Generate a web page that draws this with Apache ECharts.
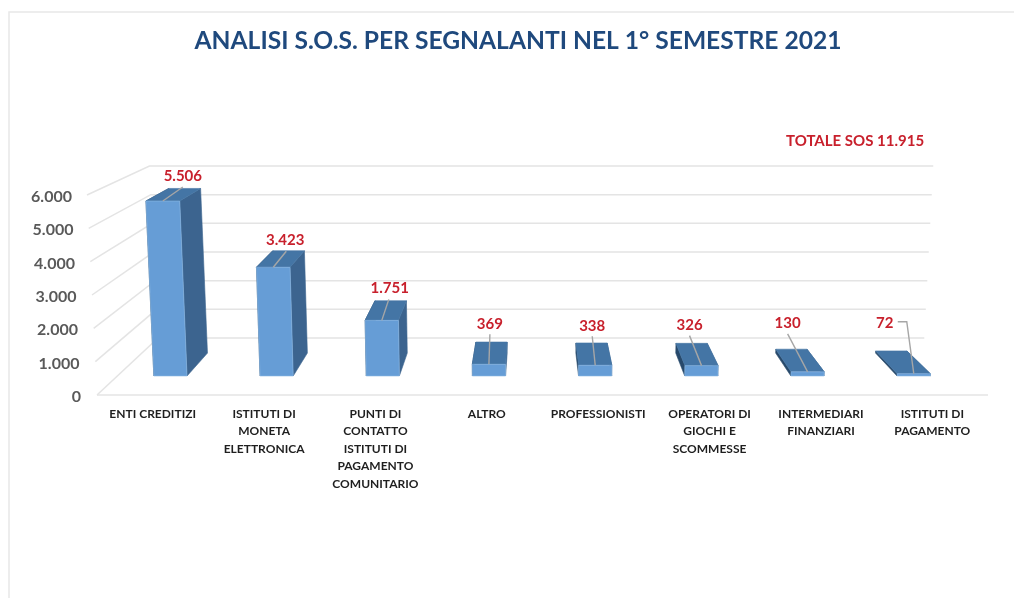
<!DOCTYPE html>
<html>
<head>
<meta charset="utf-8">
<style>
  html, body { margin: 0; padding: 0; background: #fff; }
  #chart { width: 1014px; height: 598px; }
</style>
<script src="https://cdn.jsdelivr.net/npm/echarts@6/dist/echarts.min.js"></script>
</head>
<body>
<div id="chart"></div>
<script>
const categories = [
  "ENTI CREDITIZI",
  "ISTITUTI DI\nMONETA\nELETTRONICA",
  "PUNTI DI\nCONTATTO\nISTITUTI DI\nPAGAMENTO\nCOMUNITARIO",
  "ALTRO",
  "PROFESSIONISTI",
  "OPERATORI DI\nGIOCHI E\nSCOMMESSE",
  "INTERMEDIARI\nFINANZIARI",
  "ISTITUTI DI\nPAGAMENTO",
];
const values = [5506, 3423, 1751, 369, 338, 326, 130, 72];
const yTicks = [0, 1000, 2000, 3000, 4000, 5000, 6000];

// label placement relative to the top of each bar, hand placed like in the original
const labelOffsets = [[20, -25], [12, -27], [8, -32], [1, -40], [-3, -39], [-12, -40], [-20, -49], [-29, -51]];
const leaderOffsets = [
  [[20, -14]],
  [[13, -16]],
  [[7, -21]],
  [[1, -30]],
  [[-3, -29]],
  [[-12, -30]],
  [[-20, -38]],
  [[-7, -52], [-16, -52]],
];

const fontFamily = "Lato, 'Open Sans', sans-serif";
const formatIt = (n) => String(n).replace(/\B(?=(\d{3})+$)/g, ".");
const total = values.reduce((a, b) => a + b, 0);

// fake 3D: s is depth, 0 = front plane of the grid, wallDepth = back wall
const vanish = { x: 533, y: -12 };
const leanRate = 1.147e-4;
const wallDepth = 0.14;
const barFront = 0.0467;
const barBack = 0.103;
const barWidthRatio = 0.3125;

function project(px, py, s, bottom) {
  const x = px + (px - vanish.x) * (bottom - py) * leanRate;
  return [x + s * (vanish.x - x), py + s * (vanish.y - py)];
}

function renderWall(params, api) {
  const grid = params.coordSys;
  const bottom = grid.y + grid.height;
  const left = grid.x;
  const right = grid.x + grid.width;
  const value = api.value(1);
  const py = api.coord([0, value])[1];
  const points = [
    project(left, py, 0, bottom),
    project(left, py, wallDepth, bottom),
    project(right, py, wallDepth, bottom),
  ];
  const style = { stroke: "#e4e4e4", lineWidth: 1.5, fill: null };
  const children = [{ type: "polyline", shape: { points }, style }];
  if (value === 0) {
    children.push({
      type: "polyline",
      shape: { points: [project(left, py, 0, bottom), project(right, py, 0, bottom)] },
      style,
    });
  }
  return { type: "group", children };
}

function renderBar(params, api) {
  const grid = params.coordSys;
  const bottom = grid.y + grid.height;
  const i = api.value(0);
  const value = api.value(1);
  const top = api.coord([i, value]);
  const base = api.coord([i, 0]);
  const half = (api.size([1, 0])[0] * barWidthRatio) / 2;
  const xl = top[0] - half;
  const xr = top[0] + half;

  const fbl = project(xl, base[1], barFront, bottom);
  const fbr = project(xr, base[1], barFront, bottom);
  const ftl = project(xl, top[1], barFront, bottom);
  const ftr = project(xr, top[1], barFront, bottom);
  const bbl = project(xl, base[1], barBack, bottom);
  const bbr = project(xr, base[1], barBack, bottom);
  const btl = project(xl, top[1], barBack, bottom);
  const btr = project(xr, top[1], barBack, bottom);

  const start = [(ftl[0] + ftr[0]) / 2, ftl[1]];
  const leader = [start].concat(leaderOffsets[i].map((o) => [start[0] + o[0], start[1] + o[1]]));
  const poly = (points, fill, stroke) => ({
    type: "polygon",
    shape: { points },
    style: { fill, stroke: stroke || fill, lineWidth: 0.6 },
  });

  return {
    type: "group",
    children: [
      poly([fbl, ftl, btl, bbl], "#27496b"),
      poly([fbr, ftr, btr, bbr], "#3c648f"),
      poly([ftl, ftr, btr, btl], "#4475a5"),
      poly([fbl, fbr, ftr, ftl], "#669dd6", "#8cb8e4"),
      {
        type: "polyline",
        shape: { points: leader },
        style: { stroke: "#a6a6a6", lineWidth: 1.4, fill: null },
      },
      {
        type: "text",
        style: {
          x: start[0] + labelOffsets[i][0],
          y: start[1] + labelOffsets[i][1],
          text: formatIt(value),
          align: "center",
          verticalAlign: "middle",
          fill: "#c8202c",
          font: "bold 15px " + fontFamily,
        },
      },
    ],
  };
}

const richTicks = {};
yTicks.forEach((t) => {
  richTicks["t" + t] = {
    color: "#595959",
    fontFamily,
    fontWeight: "bold",
    fontSize: 16,
    padding: [4, t * 0.0015, 0, 0],
  };
});

const chart = echarts.init(document.getElementById("chart"), null, { renderer: "canvas" });

chart.setOption({
  backgroundColor: "#fff",
  animation: false,
  title: {
    text: "ANALISI S.O.S. PER SEGNALANTI NEL 1° SEMESTRE 2021",
    left: 513,
    top: 24,
    textAlign: "center",
    textStyle: { color: "#1f497d", fontFamily, fontWeight: "bold", fontSize: 24.6 },
  },
  graphic: [
    {
      type: "polyline",
      shape: { points: [[9, 598], [9, 12], [1014, 12]] },
      style: { stroke: "#e8e8e8", lineWidth: 1.5, fill: null },
    },
    {
      type: "text",
      left: 786,
      top: 134,
      style: {
        text: "TOTALE SOS " + formatIt(total),
        fill: "#c8202c",
        font: "bold 15px " + fontFamily,
      },
    },
  ],
  grid: { left: 97, right: 26, top: 195, bottom: 203 },
  xAxis: {
    type: "category",
    data: categories,
    axisLine: { show: false },
    axisTick: { show: false },
    axisLabel: {
      interval: 0,
      margin: 10,
      color: "#1f1f1f",
      fontFamily,
      fontWeight: "bold",
      fontSize: 12,
      lineHeight: 17.5,
    },
  },
  yAxis: {
    type: "value",
    min: 0,
    max: 6000,
    interval: 1000,
    axisLine: { show: false },
    axisTick: { show: false },
    splitLine: { show: false },
    axisLabel: {
      margin: 16,
      formatter: (v) => `{t${v}|${formatIt(v)}}`,
      rich: richTicks,
    },
  },
  series: [
    {
      type: "custom",
      name: "pareti",
      renderItem: renderWall,
      silent: true,
      clip: false,
      z: 1,
      encode: { x: 0, y: 1 },
      data: yTicks.map((t) => [0, t]),
    },
    {
      type: "custom",
      name: "S.O.S.",
      renderItem: renderBar,
      clip: false,
      z: 2,
      encode: { x: 0, y: 1 },
      data: values.map((v, i) => [i, v]),
    },
  ],
});

window.addEventListener("resize", () => chart.resize());
</script>
</body>
</html>
